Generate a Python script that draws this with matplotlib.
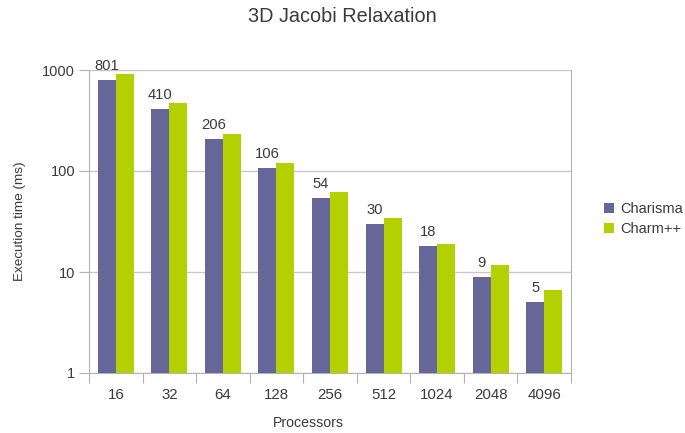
import numpy as np
import matplotlib
matplotlib.use('Agg')
import matplotlib.pyplot as plt

processors = ['16', '32', '64', '128', '256', '512', '1024', '2048', '4096']
charisma = [801, 410, 206, 106, 54, 30, 18, 9, 5]
charm = [910, 474, 232, 120, 62, 34, 19, 11.7, 6.6]

plt.rcParams['font.family'] = ['Liberation Sans', 'DejaVu Sans']
text_color = '#3a3a3a'
grid_color = '#c8c8c8'

fig = plt.figure(figsize=(6.85, 4.33), dpi=100)
ax = fig.add_axes([89 / 685, 1 - 373 / 433, 482 / 685, 303 / 433])

x = np.arange(len(processors))
width = 0.336
bars1 = ax.bar(x - width / 2, charisma, width, color='#666699', label='Charisma', zorder=3)
bars2 = ax.bar(x + width / 2, charm, width, color='#b3d000', label='Charm++', zorder=3)

ax.set_yscale('log')
ax.set_ylim(1, 1000)
ax.set_xlim(-0.5, len(processors) - 0.5)
ax.set_yticks([1, 10, 100, 1000])
ax.set_yticklabels(['1', '10', '100', '1000'])
ax.minorticks_off()
ax.yaxis.grid(True, color=grid_color, linewidth=1, zorder=0)

# category ticks sit on the group boundaries, labels in the middle
ax.set_xticks(np.arange(len(processors) + 1) - 0.5)
ax.set_xticklabels([])
ax.set_xticks(x, minor=True)
ax.set_xticklabels(processors, minor=True)
ax.tick_params(axis='x', which='major', length=7, color='#b3b3b3')
ax.tick_params(axis='x', which='minor', length=0, labelsize=10.8, colors=text_color, pad=11)
ax.tick_params(axis='y', length=7, color='#b3b3b3', labelsize=10.5, labelcolor=text_color, pad=3)

for s in ax.spines.values():
    s.set_color('#b3b3b3')
ax.spines['top'].set_visible(False)

for b, v in zip(bars1, charisma):
    ax.annotate(str(v), (b.get_x() + b.get_width() / 2, v), xytext=(0, 5),
                textcoords='offset points', ha='center', va='bottom',
                fontsize=10.6, color=text_color)

ax.set_ylabel('Execution time (ms)', fontsize=9.7, color=text_color, labelpad=12)
fig.text(308 / 685, 1 - 423 / 433, 'Processors', fontsize=10.2, color=text_color,
         ha='center', va='center')
fig.text(0.5, 1 - 16 / 433, '3D Jacobi Relaxation', fontsize=14.3, color=text_color,
         ha='center', va='center')

ax.legend(loc='center left', bbox_to_anchor=(604 / 685, 1 - 219 / 433),
          bbox_transform=fig.transFigure, frameon=False, fontsize=10.5, borderpad=0,
          borderaxespad=0, handlelength=0.7, handleheight=0.7, handletextpad=0.4,
          labelspacing=0.45, labelcolor=text_color)

fig.savefig('out.png', dpi=100)
